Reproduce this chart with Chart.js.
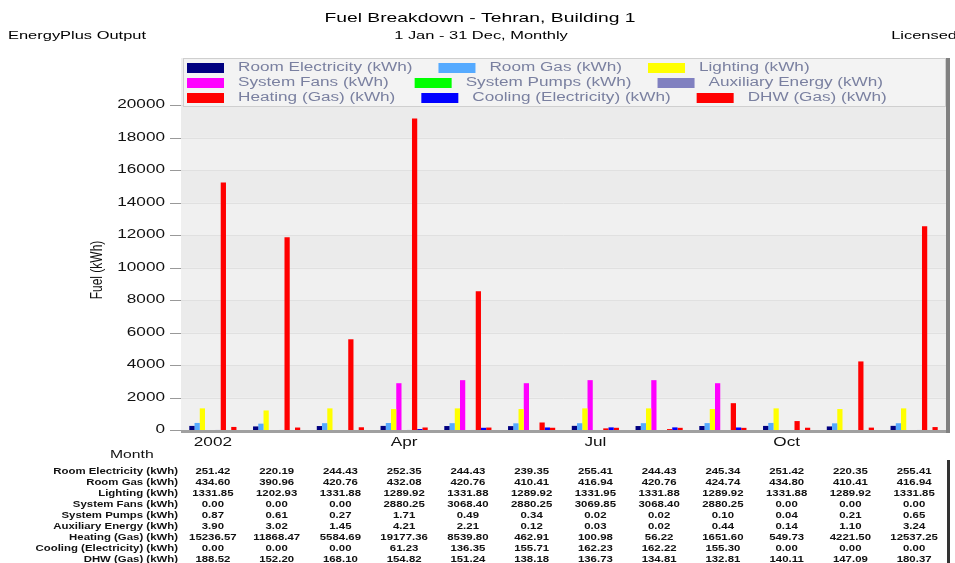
<!DOCTYPE html>
<html>
<head>
<meta charset="utf-8">
<title>Fuel Breakdown - Tehran, Building 1</title>
<script src="https://cdn.jsdelivr.net/npm/chart.js@4"></script>
<style>
  html, body { margin: 0; padding: 0; background: #ffffff; }
  canvas { display: block; }
</style>
</head>
<body>
<canvas id="fuelChart" width="955" height="563"></canvas>
<script>
// monthly fuel use, kWh
const months = ['Jan', 'Feb', 'Mar', 'Apr', 'May', 'Jun', 'Jul', 'Aug', 'Sep', 'Oct', 'Nov', 'Dec'];
const monthTicks = ['2002', '', '', 'Apr', '', '', 'Jul', '', '', 'Oct', '', ''];
const yTicks = [0, 2000, 4000, 6000, 8000, 10000, 12000, 14000, 16000, 18000, 20000];

const seriesNames = [
    'Room Electricity (kWh)', 'Room Gas (kWh)', 'Lighting (kWh)',
    'System Fans (kWh)', 'System Pumps (kWh)', 'Auxiliary Energy (kWh)',
    'Heating (Gas) (kWh)', 'Cooling (Electricity) (kWh)', 'DHW (Gas) (kWh)'
];
const seriesColors = ['#000080', '#55aaff', '#ffff00', '#ff00ff', '#00ff00', '#8080c0', '#ff0000', '#0000ff', '#ff0000'];

const roomElectricity = [251.42, 220.19, 244.43, 252.35, 244.43, 239.35, 255.41, 244.43, 245.34, 251.42, 220.35, 255.41];
const roomGas = [434.60, 390.96, 420.76, 432.08, 420.76, 410.41, 416.94, 420.76, 424.74, 434.80, 410.41, 416.94];
const lighting = [1331.85, 1202.93, 1331.88, 1289.92, 1331.88, 1289.92, 1331.95, 1331.88, 1289.92, 1331.88, 1289.92, 1331.85];
const systemFans = [0.00, 0.00, 0.00, 2880.25, 3068.40, 2880.25, 3069.85, 3068.40, 2880.25, 0.00, 0.00, 0.00];
const systemPumps = [0.87, 0.61, 0.27, 1.71, 0.49, 0.34, 0.02, 0.02, 0.10, 0.04, 0.21, 0.65];
const auxiliaryEnergy = [3.90, 3.02, 1.45, 4.21, 2.21, 0.12, 0.03, 0.02, 0.44, 0.14, 1.10, 3.24];
const heatingGas = [15236.57, 11868.47, 5584.69, 19177.36, 8539.80, 462.91, 100.98, 56.22, 1651.60, 549.73, 4221.50, 12537.25];
const coolingElec = [0.00, 0.00, 0.00, 61.23, 136.35, 155.71, 162.23, 162.22, 155.30, 0.00, 0.00, 0.00];
const dhwGas = [188.52, 152.20, 168.10, 154.82, 151.24, 138.18, 136.73, 134.81, 132.81, 140.11, 147.09, 180.37];

const seriesValues = [roomElectricity, roomGas, lighting, systemFans, systemPumps,
    auxiliaryEnergy, heatingGas, coolingElec, dhwGas];

const FONT = '"Liberation Sans", Arial, sans-serif';
const SX = 1.43;   // wide lettering

// text drawn with a horizontal stretch
function wideText(ctx, txt, x, y, align, font, color, sx) {
    ctx.save();
    ctx.font = font;
    ctx.fillStyle = color;
    ctx.textBaseline = 'middle';
    ctx.textAlign = 'left';
    const w = ctx.measureText(txt).width * sx;
    let x0 = x;
    if (align === 'center') x0 = x - w / 2;
    if (align === 'right') x0 = x - w;
    ctx.translate(x0, y);
    ctx.scale(sx, 1);
    ctx.fillText(txt, 0, 0);
    ctx.restore();
    return w;
}

const plotBackground = {
    id: 'plotBackground',
    beforeDatasetsDraw(chart) {
        const { ctx, chartArea: a, scales: { y } } = chart;
        ctx.save();
        ctx.fillStyle = '#efefef';
        ctx.fillRect(a.left, a.top, a.right - a.left, a.bottom - a.top);
        // alternating bands between ticks
        for (let i = 0; i < yTicks.length - 1; i++) {
            const y0 = y.getPixelForValue(yTicks[i]);
            const y1 = y.getPixelForValue(yTicks[i + 1]);
            ctx.fillStyle = i % 2 ? '#ebebeb' : '#f0f0f0';
            ctx.fillRect(a.left, y1, a.right - a.left, y0 - y1);
        }
        ctx.strokeStyle = '#e0e0e0';
        ctx.lineWidth = 1;
        yTicks.forEach(v => {
            if (v === 0) return;
            const py = Math.round(y.getPixelForValue(v)) + 0.5;
            ctx.beginPath();
            ctx.moveTo(a.left, py);
            ctx.lineTo(a.right, py);
            ctx.stroke();
        });
        ctx.restore();
    },
    afterDatasetsDraw(chart) {
        const { ctx, chartArea: a } = chart;
        ctx.save();
        // bottom axis and right shadow
        ctx.fillStyle = '#a0a0a0';
        ctx.fillRect(a.left, a.bottom, a.right - a.left + 4, 3);
        ctx.fillStyle = '#808080';
        ctx.fillRect(a.right, a.top, 4, a.bottom - a.top + 3);
        ctx.restore();
    }
};

const chartText = {
    id: 'chartText',
    afterDraw(chart) {
        const { ctx, chartArea: a, scales: { x, y } } = chart;

        // header
        wideText(ctx, 'Fuel Breakdown - Tehran, Building 1', 480, 18, 'center', '13.5px ' + FONT, '#000', SX);
        wideText(ctx, 'EnergyPlus Output', 8, 36, 'left', '11.5px ' + FONT, '#000', SX);
        wideText(ctx, '1 Jan - 31 Dec, Monthly', 481, 36, 'center', '11.5px ' + FONT, '#000', SX);
        wideText(ctx, 'Licensed', 957, 36, 'right', '11.5px ' + FONT, '#000', SX);

        // legend box
        ctx.save();
        ctx.fillStyle = '#f3f3f3';
        ctx.fillRect(a.left + 2, a.top, a.right - a.left - 2, 48);
        ctx.strokeStyle = '#cfcfcf';
        ctx.lineWidth = 1;
        ctx.strokeRect(a.left + 2.5, a.top + 0.5, a.right - a.left - 3, 48);
        ctx.restore();
        for (let r = 0; r < 3; r++) {
            let lx = 187;
            const ly = a.top + 10 + r * 15;
            for (let c = 0; c < 3; c++) {
                const k = r * 3 + c;
                ctx.fillStyle = seriesColors[k];
                ctx.fillRect(lx, ly - 5, 37, 10);
                lx += 37 + 14;
                lx += wideText(ctx, seriesNames[k], lx, ly, 'left', '12px ' + FONT, '#7a80a0', SX);
                lx += 26;
            }
        }

        // y axis ticks and title
        ctx.save();
        ctx.strokeStyle = '#999';
        ctx.lineWidth = 1;
        yTicks.forEach(v => {
            const py = y.getPixelForValue(v);
            ctx.beginPath();
            ctx.moveTo(170, Math.round(py) + 0.5);
            ctx.lineTo(a.left, Math.round(py) + 0.5);
            ctx.stroke();
            wideText(ctx, String(v), 165, py, 'right', '12px ' + FONT, '#111', SX);
        });
        ctx.restore();

        ctx.save();
        ctx.font = '12px ' + FONT;
        ctx.fillStyle = '#111';
        ctx.textAlign = 'center';
        ctx.textBaseline = 'middle';
        ctx.translate(97, 270);
        ctx.scale(SX, 1);
        ctx.rotate(-Math.PI / 2);
        ctx.fillText('Fuel (kWh)', 0, 0);
        ctx.restore();

        // x axis labels
        monthTicks.forEach((lbl, i) => {
            if (!lbl) return;
            wideText(ctx, lbl, x.getPixelForValue(i), a.bottom + 13, 'center', '12px ' + FONT, '#111', SX);
        });
        wideText(ctx, 'Month', 110, 455, 'left', '11px ' + FONT, '#111', SX);

        // data table
        seriesNames.forEach((name, r) => {
            const ty = 471 + r * 11.1;
            wideText(ctx, name, 178, ty, 'right', 'bold 9.5px ' + FONT, '#111', 1.2);
            seriesValues[r].forEach((v, i) => {
                wideText(ctx, v.toFixed(2), x.getPixelForValue(i), ty, 'center', 'bold 9.5px ' + FONT, '#111', 1.2);
            });
        });
        ctx.fillStyle = '#333';
        ctx.fillRect(947, 460, 3, 103);
    }
};

const datasets = seriesNames.map((name, k) => ({
    label: name,
    data: seriesValues[k],
    backgroundColor: seriesColors[k],
    borderWidth: 0,
    categoryPercentage: 0.74,
    barPercentage: 1.0,
}));

new Chart(document.getElementById('fuelChart').getContext('2d'), {
    type: 'bar',
    data: { labels: months, datasets: datasets },
    options: {
        responsive: false,
        animation: false,
        layout: { padding: { left: 181, right: 9, top: 58, bottom: 133 } },
        plugins: {
            legend: { display: false },
            title: { display: false },
            tooltip: { enabled: false },
        },
        scales: {
            x: { display: false },
            y: { display: false, min: 0, max: 22900 },
        },
    },
    plugins: [plotBackground, chartText],
});
</script>
</body>
</html>
